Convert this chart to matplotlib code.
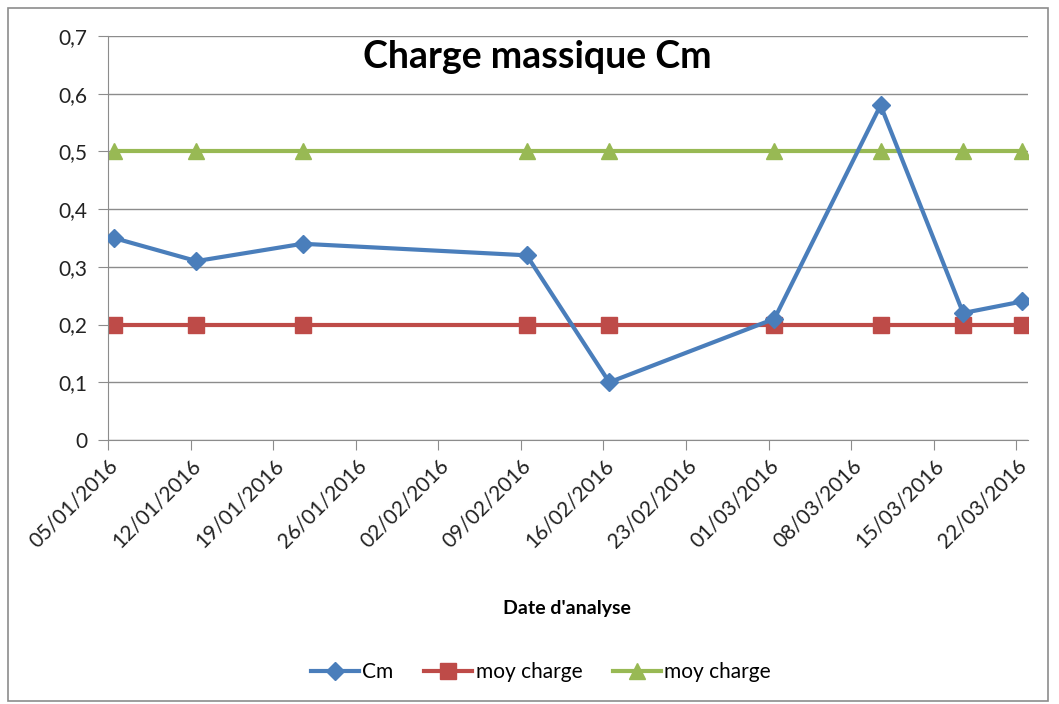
import numpy as np
import pandas as pd
import matplotlib
matplotlib.use('Agg')
import matplotlib.pyplot as plt
from matplotlib.patches import Rectangle

plt.rcParams['font.family'] = ['Lato', 'DejaVu Sans']

# data
dates = ['05/01/2016', '12/01/2016', '21/01/2016', '09/02/2016', '16/02/2016',
         '01/03/2016', '10/03/2016', '17/03/2016', '22/03/2016']
cm = [0.35, 0.31, 0.34, 0.32, 0.10, 0.21, 0.58, 0.22, 0.24]
moy_bas = [0.2] * 9
moy_haut = [0.5] * 9

# Excel puts the points in the middle of the day
t = pd.to_datetime(dates, dayfirst=True) + pd.Timedelta(hours=12)

blue = '#4A7EBB'
red = '#BE4B48'
green = '#98B954'

fig = plt.figure(figsize=(10.59, 7.04), dpi=100)
ax = fig.add_axes([108/1059, 1-440/704, (1028-108)/1059, (440-36)/704])

ax.plot(t, cm, color=blue, lw=3, marker='D', ms=9, label='Cm', zorder=3)
ax.plot(t, moy_bas, color=red, lw=3, marker='s', ms=11, label='moy charge', zorder=2)
ax.plot(t, moy_haut, color=green, lw=3, marker='^', ms=12, label='moy charge', zorder=2)

ax.set_ylim(0, 0.7)
ax.set_yticks(np.arange(0, 0.71, 0.1))
ax.set_yticklabels(['0'] + ['0,%d' % i for i in range(1, 8)])
ax.yaxis.grid(True, color='#8C8C8C', lw=1)
ax.set_axisbelow(True)

x0 = pd.Timestamp('2016-01-05')
ax.set_xlim(x0, pd.Timestamp('2016-03-23'))
ticks = pd.date_range(x0, pd.Timestamp('2016-03-22'), freq='7D')
ax.set_xticks(ticks)
ax.set_xticklabels([d.strftime('%d/%m/%Y') for d in ticks], rotation=45,
                   ha='right', rotation_mode='anchor')

for s in ['top', 'right']:
    ax.spines[s].set_visible(False)
for s in ['left', 'bottom']:
    ax.spines[s].set_color('#8C8C8C')
ax.tick_params(axis='both', colors='#8C8C8C', labelcolor='#222222', labelsize=15, length=7)
ax.tick_params(axis='y', pad=8)
ax.tick_params(axis='x', pad=4)

ax.set_xlabel("Date d'analyse", fontsize=14, fontweight='bold')
ax.xaxis.set_label_coords((567-108)/920, -(600-440)/404)

fig.text(537/1059, 1-57/704, 'Charge massique Cm', fontsize=27, fontweight='bold',
         ha='center', va='center')

fig.legend(loc='center', bbox_to_anchor=(541/1059, 1-672/704), ncol=3, frameon=False,
           fontsize=15, handlelength=2.3, columnspacing=1.5, handletextpad=0.15)

fig.patches.append(Rectangle((8/1059, 3/704), 1040/1059, 693/704, transform=fig.transFigure,
                             fill=False, edgecolor='#8C8C8C', lw=1.2))

fig.savefig('out.png', dpi=100)
